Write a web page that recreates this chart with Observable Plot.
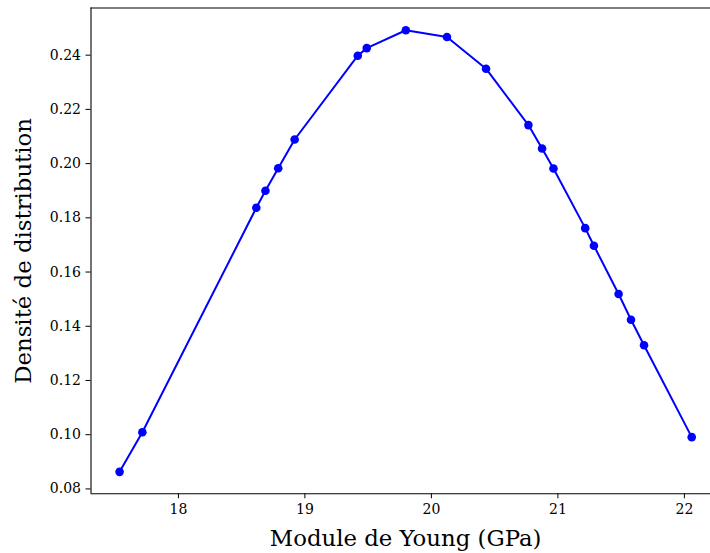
<!DOCTYPE html>
<html>
<head>
<meta charset="utf-8">
<script src="https://cdn.jsdelivr.net/npm/d3@7"></script>
<script src="https://cdn.jsdelivr.net/npm/@observablehq/plot@0.6"></script>
<style>
  html, body { margin: 0; padding: 0; background: #fff; }
  #chart svg { display: block; }
</style>
</head>
<body>
<div id="chart"></div>
<script>
const youngModulus = [17.535, 17.715, 18.616, 18.688, 18.789, 18.919, 19.418, 19.489, 19.798, 20.123, 20.432, 20.767, 20.875, 20.965, 21.216, 21.285, 21.480, 21.578, 21.681, 22.058];
const density = [0.0863, 0.1009, 0.1837, 0.1900, 0.1983, 0.2089, 0.2398, 0.2426, 0.2492, 0.2467, 0.2350, 0.2142, 0.2056, 0.1982, 0.1762, 0.1697, 0.1519, 0.1424, 0.1330, 0.0991];
const xTicks = [18, 19, 20, 21, 22];
const yTicks = [0.08, 0.10, 0.12, 0.14, 0.16, 0.18, 0.20, 0.22, 0.24];
const xLabel = "Module de Young (GPa)";
const yLabel = "Densité de distribution";

const data = youngModulus.map((x, i) => ({x, y: density[i]}));
const xDomain = [17.309, 22.284];
const yDomain = [0.0782, 0.2574];

const chart = Plot.plot({
  width: 710,
  height: 553,
  marginLeft: 90.5,
  marginRight: 0,
  marginTop: 7.5,
  marginBottom: 59.7,
  style: {fontFamily: "DejaVu Serif", fontSize: "14px", color: "#000", background: "#fff"},
  x: {domain: xDomain, range: [90.5, 719.8]},
  y: {domain: yDomain, range: [493.3, 7.5]},
  marks: [
    Plot.ruleY([yDomain[1]], {stroke: "#000", strokeWidth: 1.1}),
    Plot.ruleY([yDomain[0]], {stroke: "#000", strokeWidth: 1.1}),
    Plot.ruleX([xDomain[0]], {stroke: "#000", strokeWidth: 1.1}),
    Plot.axisX({ticks: xTicks, tickSize: 5, tickPadding: 5, tickFormat: d3.format("d"), label: null, fontSize: 14}),
    Plot.axisY({ticks: yTicks, tickSize: 5, tickPadding: 5, tickFormat: d3.format(".2f"), label: null, fontSize: 14}),
    Plot.line(data, {x: "x", y: "y", stroke: "#0000ff", strokeWidth: 2}),
    Plot.dot(data, {x: "x", y: "y", r: 4.3, fill: "#0000ff", stroke: "none"}),
    Plot.text([xLabel], {frameAnchor: "bottom", dx: 4.9, dy: 52, fontSize: 22.8, textAnchor: "middle", fill: "#000"}),
    Plot.text([yLabel], {frameAnchor: "left", dx: -67, rotate: -90, fontSize: 22.8, textAnchor: "middle", fill: "#000"})
  ]
});
document.getElementById("chart").appendChild(chart);
</script>
</body>
</html>
